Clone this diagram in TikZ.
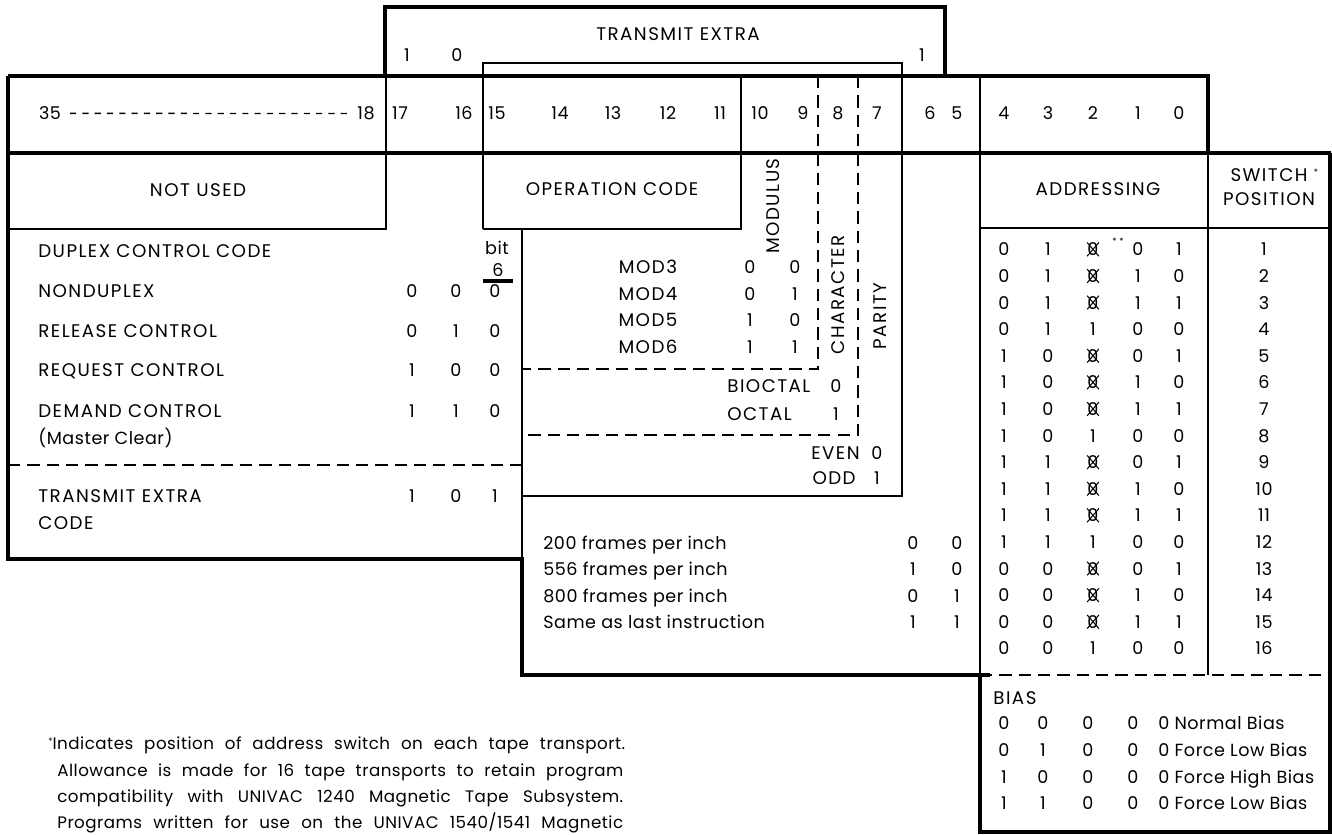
\documentclass[tikz,border=0pt]{standalone}
\usepackage{fontspec}
\setmainfont{Poppins}[LetterSpace=3]
\newfontfamily\capsfont{Poppins}[LetterSpace=8]
\usetikzlibrary{positioning}

\begin{document}
\begin{tikzpicture}[x=0.02cm,y=-0.02cm,
  thk/.style={line width=2.2pt},
  thn/.style={line width=1pt},
  dsh/.style={line width=1.5pt,dash pattern=on 7pt off 4pt},
  lbl/.style={inner sep=0pt,anchor=mid,font=\fontsize{10}{12}\selectfont},
  captxt/.style={lbl,font=\fontsize{10.4}{12}\selectfont\capsfont},
  vrt/.style={captxt,anchor=center,rotate=90},
  fnote/.style={lbl,anchor=mid west,font=\fontsize{9.5}{11}\selectfont},
  xmark/.style={line width=0.6pt}]
\useasboundingbox (0,0) rectangle (1332,835);

% heavy frame
\draw[thk] (385,76) -- (385,7) -- (945,7) -- (945,76);
\draw[thk] (8,76) -- (1208,76) -- (1208,153);
\draw[thk] (8,153) -- (1331,153);
\draw[thk] (8,76) -- (8,559) -- (522,559) -- (522,675) -- (990,675);
\draw[thk] (980,675) -- (980,832) -- (1330,832) -- (1330,153);

% light rules
\draw[thn] (386,76) -- (386,229) -- (8,229);
\draw[thn] (483,229) -- (483,63) -- (902,63) -- (902,496) -- (522,496);
\draw[thn] (483,229) -- (741,229) -- (741,76);
\draw[thn] (522,229) -- (522,559);
\draw[thn] (980,76) -- (980,675);
\draw[thn] (980,228) -- (1330,228);
\draw[line width=1.6pt] (1208,153) -- (1208,675);
\draw[dsh] (818,76) -- (818,369) -- (522,369);
\draw[dsh] (858,76) -- (858,435) -- (522,435);
\draw[dsh] (8,465) -- (522,465);
\draw[dsh] (980,675) -- (1330,675);

% transmit extra
\node[captxt] (trx) at (678,36) {TRANSMIT EXTRA};
\node[lbl] (trx17) at (407,57) {1};
\node[lbl] (trx16) at (457,57) {0};
\node[lbl] (trx6) at (922,57) {1};

% bit numbers
\node[lbl] (b35) at (50,115) {35};
\node[lbl] (b18) at (366,115) {18};
\draw[line width=0.8pt,dash pattern=on 3.5pt off 3.5pt] ([xshift=5pt]b35.east) -- ([xshift=-4pt]b18.west);
\foreach \b/\x in {17/400,16/464,15/497,14/560,13/613,12/668,11/720,10/760,9/803,8/838,7/877,6/930,5/957,4/1004,3/1048,2/1093,1/1138,0/1179}
  \node[lbl] (b\b) at (\x,115) {\b};

% field titles
\node[captxt] (notused) at (198,192) {NOT USED};
\node[captxt] (opcode) at (612,191) {OPERATION CODE};
\node[captxt] (addr) at (1098,191) {ADDRESSING};
\node[captxt] (swtop) at (1269,177) {SWITCH};
\node[lbl,font=\tiny] (swstar) at (1316,171) {*};
\node[captxt] (swbot) at (1269,201) {POSITION};
\node[vrt] (modulus) at (773,206) {MODULUS};
\node[vrt] (charac) at (838,295) {CHARACTER};
\node[vrt] (parity) at (880,316) {PARITY};

% duplex control
\node[captxt,anchor=mid west] (dup) at (38,253) {DUPLEX CONTROL CODE};
\node[lbl] (bit) at (497,250) {bit};
\node[lbl] (bit6) at (498,272) {6};
\draw[line width=1.8pt] (483,281) -- (513,281);
\foreach \t/\y/\p/\q/\r [count=\i] in {NONDUPLEX/293/0/0/0,RELEASE CONTROL/333/0/1/0,REQUEST CONTROL/372/1/0/0,DEMAND CONTROL/413/1/1/0,TRANSMIT EXTRA/498/1/0/1}{
  \node[captxt,anchor=mid west] (dc\i) at (38,\y) {\t};
  \node[lbl] (dc\i-1) at (412,\y) {\p};
  \node[lbl] (dc\i-2) at (456,\y) {\q};
  \node[lbl] (dc\i-3) at (495,\y) {\r};
}
\node[lbl,anchor=mid west] (mclr) at (38,440) {(Master Clear)};
\node[captxt,anchor=mid west] (txcode) at (38,525) {CODE};

% modulus, character, parity
\foreach \m/\y/\p/\q [count=\i] in {3/269/0/0,4/296/0/1,5/322/1/0,6/349/1/1}{
  \node[captxt] (md\i) at (648,\y) {MOD\m};
  \node[lbl] (md\i-1) at (750,\y) {\p};
  \node[lbl] (md\i-2) at (795,\y) {\q};
}
\node[captxt,anchor=mid west] (bioct) at (727,388) {BIOCTAL};
\node[lbl] (bioct-v) at (836,388) {0};
\node[captxt,anchor=mid west] (oct) at (727,416) {OCTAL};
\node[lbl] (oct-v) at (836,416) {1};
\node[captxt,anchor=mid east] (even) at (860,455) {EVEN};
\node[lbl] (even-v) at (877,455) {0};
\node[captxt,anchor=mid east] (odd) at (856,480) {ODD};
\node[lbl] (odd-v) at (877,480) {1};

% density
\foreach \t/\y/\p/\q [count=\i] in {200 frames per inch/545/0/0,556 frames per inch/571/1/0,800 frames per inch/598/0/1,Same as last instruction/624/1/1}{
  \node[lbl,anchor=mid west] (dn\i) at (543,\y) {\t};
  \node[lbl] (dn\i-1) at (913,\y) {\p};
  \node[lbl] (dn\i-2) at (957,\y) {\q};
}

% addressing (x = crossed-out zero)
\foreach \a/\b/\c/\d/\e [count=\i] in {0/1/x/0/1,0/1/x/1/0,0/1/x/1/1,0/1/1/0/0,1/0/x/0/1,1/0/x/1/0,1/0/x/1/1,1/0/1/0/0,1/1/x/0/1,1/1/x/1/0,1/1/x/1/1,1/1/1/0/0,0/0/x/0/1,0/0/x/1/0,0/0/x/1/1,0/0/1/0/0}{
  \pgfmathsetmacro\yy{251+(\i-1)*26.6}
  \node[lbl] (ad\i-1) at (1004,\yy) {\a};
  \node[lbl] (ad\i-2) at (1048,\yy) {\b};
  \node[lbl] (ad\i-3) at (1093,\yy) {\if\c x0\else\c\fi};
  \if\c x
    \draw[xmark] (ad\i-3.north west) -- (ad\i-3.south east) (ad\i-3.north east) -- (ad\i-3.south west);
  \fi
  \node[lbl] (ad\i-4) at (1138,\yy) {\d};
  \node[lbl] (ad\i-5) at (1179,\yy) {\e};
  \node[lbl] (sw\i) at (1264,\yy) {\i};
}
\node[lbl,font=\tiny] (dstar) at (1118,240) {* *};

% bias
\node[captxt,anchor=mid west] (bias) at (993,700) {BIAS};
\foreach \a/\b/\t [count=\i] in {0/0/Normal Bias,0/1/Force Low Bias,1/0/Force High Bias,1/1/Force Low Bias}{
  \pgfmathsetmacro\yy{725+(\i-1)*26.7}
  \node[lbl] (bs\i-1) at (1004,\yy) {\a};
  \node[lbl] (bs\i-2) at (1043,\yy) {\b};
  \node[lbl] (bs\i-3) at (1088,\yy) {0};
  \node[lbl] (bs\i-4) at (1133,\yy) {0};
  \node[lbl,anchor=mid west] (bs\i-5) at (1158,\yy) {0 \t};
}

% footnote
\node[fnote] (fn1) at (48,745) {\makebox[11.54cm][s]{\raisebox{.6ex}{\tiny*}Indicates position of address switch on each tape transport.}};
\node[fnote] (fn2) at (57,772) {\makebox[11.32cm][s]{Allowance is made for 16 tape transports to retain program}};
\node[fnote] (fn3) at (57,798) {\makebox[11.32cm][s]{compatibility with UNIVAC 1240 Magnetic Tape Subsystem.}};
\node[fnote] (fn4) at (57,824) {\makebox[11.32cm][s]{Programs written for use on the UNIVAC 1540/1541 Magnetic}};
\end{tikzpicture}
\end{document}
